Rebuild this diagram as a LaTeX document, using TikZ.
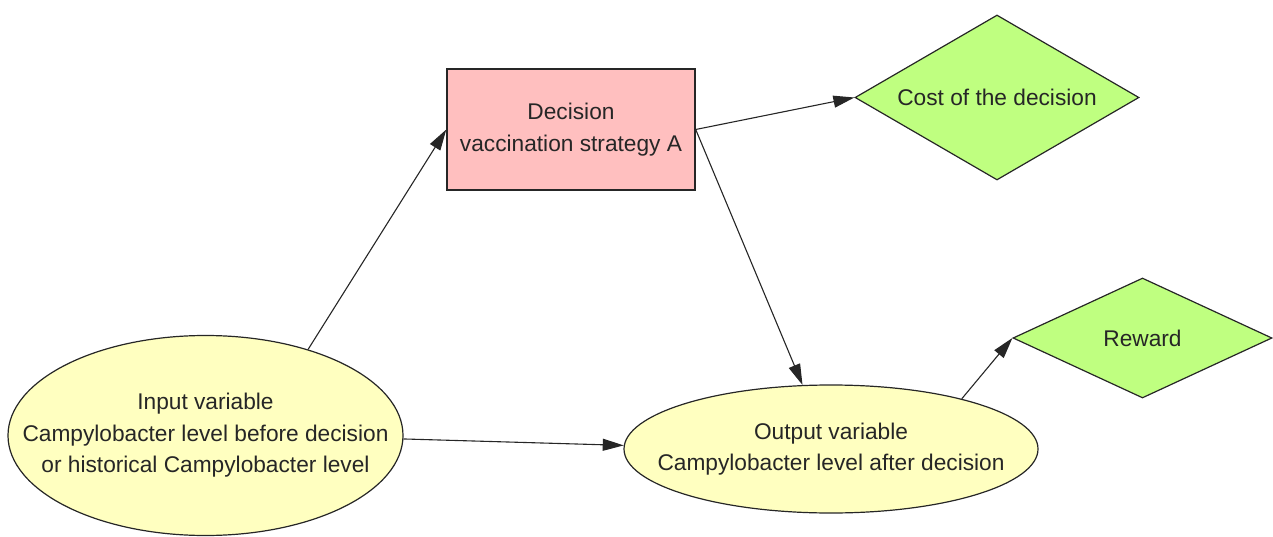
\documentclass[tikz,border=0pt]{standalone}
\usepackage{fontspec}
\setmainfont{Liberation Sans}
\usetikzlibrary{shapes.geometric, arrows.meta}
\definecolor{decpink}{HTML}{FFBFBF}
\definecolor{varyellow}{HTML}{FFFFC0}
\definecolor{valgreen}{HTML}{BFFF80}

\begin{document}
\begin{tikzpicture}[x=1pt, y=-1pt,
    txt/.style={font=\fontsize{22.7}{31.5}\selectfont, align=center, text=black!85},
    varnode/.style={txt, ellipse, draw=black!85, line width=1.2pt, fill=varyellow, inner xsep=-45pt, inner ysep=0pt},
    decnode/.style={txt, rectangle, draw=black!85, line width=1.4pt, fill=decpink, minimum width=248pt, minimum height=121pt},
    valnode/.style={txt, diamond, draw=black!85, line width=1.2pt, fill=valgreen, inner sep=0pt},
    link/.style={line width=1.1pt, draw=black!85, -{Triangle[length=21pt,width=12pt]}}]
    \useasboundingbox (0,0) rectangle (1273,537);
    \coordinate (I) at (205.5,435.5);
    \coordinate (O) at (831,449);
    \coordinate (D) at (571,129.5);
    \coordinate (C) at (997,97.5);
    \coordinate (R) at (1142.5,338);

\node[varnode, minimum width=395pt, minimum height=200pt] (in) at (I)
    {Input variable\\Campylobacter level before decision\\or historical Campylobacter level};
\node[varnode, minimum width=414pt, minimum height=128pt] (out) at (O)
    {Output variable\\Campylobacter level after decision};
\node[decnode] (dec) at (D) {Decision\\vaccination strategy A};
\node[valnode, shape aspect=1.72, minimum width=284pt, minimum height=165pt] (cost) at (C) {Cost of the decision};
\node[valnode, shape aspect=2.16, minimum width=259pt, minimum height=120pt] (rew) at (R) {Reward};

\draw[link] (in.40) -- (dec.west);
\draw[link] (dec.east) -- (cost.west);
\draw[link] (dec.east) -- (out.114);
\draw[link] (in.-1) -- (out.179);
\draw[link] (out.21) -- (rew.west);
  \end{tikzpicture}
\end{document}
